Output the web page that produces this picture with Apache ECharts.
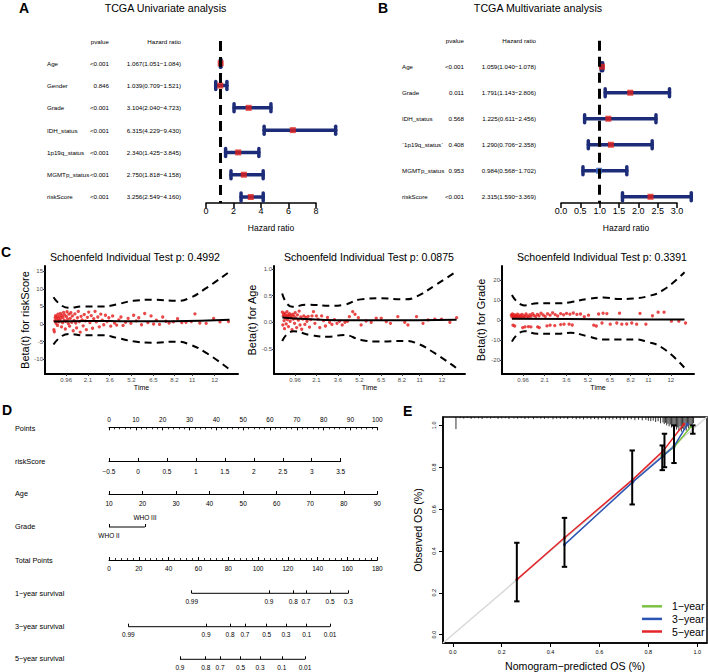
<!DOCTYPE html>
<html><head><meta charset="utf-8">
<script src="https://cdn.jsdelivr.net/npm/echarts@6/dist/echarts.min.js"></script>
<style>html,body{margin:0;padding:0;background:#fff}#c{width:708px;height:672px}</style>
</head><body><div id="c"></div>
<script>
const F = '"Liberation Sans", Arial, Helvetica, sans-serif';
const NAVY = '#1d2c78', RED = '#e0201b', BLUEPT = '#3a66c4', PTRED = '#e31a1c';

// ---------- Panel A : univariate ----------
const uniVars = ['Age','Gender','Grade','IDH_status','1p19q_status','MGMTp_status','riskScore'];
const uniP    = ['<0.001','0.846','<0.001','<0.001','<0.001','<0.001','<0.001'];
const uniHR   = [1.067,1.039,3.104,6.315,2.340,2.750,3.256];
const uniLow  = [1.051,0.709,2.040,4.229,1.425,1.818,2.549];
const uniHigh = [1.084,1.521,4.723,9.430,3.845,4.158,4.160];
const uniTicks = [0,2,4,6,8];

// ---------- Panel B : multivariate ----------
const mulVars = ['Age','Grade','IDH_status','`1p19q_status`','MGMTp_status','riskScore'];
const mulP    = ['<0.001','0.011','0.568','0.408','0.953','<0.001'];
const mulHR   = [1.059,1.791,1.225,1.290,0.984,2.315];
const mulLow  = [1.040,1.143,0.611,0.706,0.568,1.590];
const mulHigh = [1.078,2.806,2.456,2.358,1.702,3.369];
const mulTicks = [0,0.5,1,1.5,2,2.5,3];

// ---------- Panel C : Schoenfeld residuals ----------
const cTimePos = [1,2.02,3.05,4.07,5.11,6.1,6.94,8.0];
const cTimeLab = ['0.96','2.1','3.6','5.2','6.5','8.2','11','12'];
const cTitles = ['Schoenfeld Individual Test p: 0.4992','Schoenfeld Individual Test p: 0.0875','Schoenfeld Individual Test p: 0.3391'];
const cYNames = ['Beta(t) for riskScore','Beta(t) for Age','Beta(t) for Grade'];
const c1Pts = [[0.42,-1.6],[0.44,-2.2],[0.46,0.9],[0.48,1.8],[0.50,2.4],[0.52,0.2],[0.55,1.2],[0.57,2.0],[0.59,-0.4],[0.61,2.8],[0.63,1.5],[0.66,0.6],[0.68,2.2],[0.70,1.0],[0.73,3.0],[0.75,1.7],[0.78,-0.8],[0.80,2.5],[0.83,0.4],[0.85,1.9],[0.88,3.3],[0.90,1.1],[0.93,2.6],[0.96,-1.4],[0.98,0.8],[1.01,2.1],[1.04,3.5],[1.07,1.4],[1.10,0.1],[1.13,2.8],[1.16,-0.6],[1.19,1.6],[1.22,3.2],[1.26,0.5],[1.29,2.3],[1.33,-1.9],[1.37,1.0],[1.41,2.9],[1.45,0.3],[1.49,-1.1],[1.53,1.8],[1.57,3.6],[1.62,0.7],[1.66,-2.3],[1.70,2.2],[1.75,1.2],[1.80,-0.5],[1.85,2.7],[1.90,0.9],[1.95,-1.6],[2.00,1.9],[2.06,3.4],[2.12,0.4],[2.18,2.4],[2.24,-1.2],[2.30,1.5],[2.36,3.6],[2.42,0.6],[2.49,2.0],[2.56,-0.8],[2.63,2.8],[2.70,1.1],[2.77,-0.2],[2.85,2.5],[2.93,0.7],[3.01,1.8],[3.10,-0.6],[3.19,2.3],[3.28,0.3],[3.38,-0.3],[3.48,1.2],[3.58,2.0],[3.68,-0.4],[3.80,0.5],[3.92,1.6],[4.05,0.2],[4.18,2.5],[4.30,0.9],[4.42,1.8],[4.55,-0.2],[4.70,3.0],[4.85,0.4],[5.00,2.3],[5.12,0.0],[5.25,1.1],[5.40,-0.1],[5.55,2.0],[5.70,0.8],[5.85,0.3],[6.05,0.6],[6.25,1.5],[6.45,0.4],[6.65,0.5],[6.90,0.7],[7.07,2.9],[7.30,0.3],[7.60,0.2],[7.95,1.6],[8.25,0.6],[8.65,0.7]];
const c1Beta  = [[0.42,0.7],[2,0.9],[4,0.8],[6,0.8],[8.7,1.2]];
const c1Upper = [[0.40,7.6],[1.11,4.6],[1.81,5.0],[2.75,5.0],[3.38,5.6],[4.16,6.6],[5.1,6.9],[6.2,6.6],[6.82,7.4],[7.6,10.2],[8.7,14.9]];
const c1Lower = [[0.40,-5.8],[1.11,-2.8],[1.81,-3.2],[2.75,-3.2],[3.38,-3.9],[4.16,-4.9],[5.1,-5.3],[6.2,-5.0],[6.82,-5.8],[7.6,-8.2],[8.7,-12.9]];
const c2Pts = [[0.40,0.19],[0.42,-0.05],[0.44,0.12],[0.46,0.15],[0.48,0.03],[0.50,-0.12],[0.52,0.17],[0.54,0.08],[0.56,0.13],[0.58,-0.03],[0.60,0.1],[0.62,0.2],[0.64,0.05],[0.66,0.14],[0.69,-0.08],[0.71,0.11],[0.74,0.16],[0.77,0.02],[0.80,0.13],[0.83,0.09],[0.86,-0.14],[0.89,0.15],[0.92,0.06],[0.95,0.12],[0.98,-0.02],[1.01,0.18],[1.04,0.08],[1.08,-0.1],[1.12,0.14],[1.16,0.04],[1.20,0.21],[1.24,-0.05],[1.28,0.1],[1.32,-0.13],[1.37,0.06],[1.42,0.12],[1.47,-0.04],[1.52,0.09],[1.57,0.02],[1.63,0.11],[1.69,-0.09],[1.75,0.05],[1.81,0.12],[1.88,0.2],[1.95,-0.02],[2.02,0.12],[2.10,0.06],[2.18,-0.1],[2.27,0.12],[2.36,0.03],[2.45,-0.07],[2.55,0.09],[2.65,0.0],[2.76,-0.04],[2.88,0.05],[3.00,-0.02],[3.12,0.02],[3.25,-0.05],[3.38,0.0],[3.50,0.02],[3.59,0.106],[3.75,0.2],[3.86,0.15],[4.02,0.087],[4.15,-0.05],[4.39,0.025],[4.63,0],[4.87,0.075],[5.11,0.075],[5.35,0.012],[5.55,-0.02],[5.90,0.106],[6.23,0],[6.38,-0.05],[6.79,0.106],[7.10,-0.02],[7.34,0.044],[7.66,0.06],[7.98,0.06],[8.38,0],[8.70,0.087]];
const c2Beta  = [[0.4,0.09],[1.5,0.06],[3,0.04],[5,0.04],[8.7,0.05]];
const c2Upper = [[0.39,0.54],[0.87,0.29],[1.59,0.33],[2.7,0.31],[3.34,0.33],[4.14,0.43],[5.1,0.45],[6.22,0.43],[6.78,0.48],[7.66,0.69],[8.7,0.955]];
const c2Lower = [[0.39,-0.35],[0.91,-0.17],[1.75,-0.24],[2.55,-0.27],[3.34,-0.24],[4.14,-0.33],[4.94,-0.36],[6.22,-0.35],[6.78,-0.39],[7.66,-0.58],[8.7,-0.86]];
const c3Pts = [[0.44,2.5],[0.47,1.6],[0.50,3.0],[0.53,2.0],[0.56,1.2],[0.60,2.6],[0.63,1.8],[0.67,2.2],[0.70,1.4],[0.74,2.9],[0.78,1.9],[0.82,1.1],[0.86,2.4],[0.90,1.7],[0.95,2.8],[0.99,1.3],[1.04,2.2],[1.09,1.6],[1.14,3.0],[1.20,2.0],[1.26,1.4],[1.32,2.6],[1.38,1.9],[1.45,3.2],[1.52,2.3],[1.60,1.7],[1.68,2.8],[1.76,2.1],[1.85,3.4],[1.95,2.5],[2.05,1.8],[2.16,3.1],[2.28,2.4],[2.40,3.6],[2.52,2.7],[2.64,2.0],[2.78,3.2],[2.92,2.6],[3.06,3.3],[3.22,2.9],[3.38,3.5],[3.55,2.8],[3.72,3.0],[3.90,1.6],[4.10,2.4],[4.58,3.0],[4.79,3.4],[4.97,3.2],[5.57,3.4],[6.54,3.3],[7.13,2.1],[7.40,3.9],[7.68,3.9],[8.03,-0.6],[8.38,-0.6],[8.70,-1.5],[0.52,-2.6],[0.60,-3.0],[0.98,-3.8],[1.09,-3.45],[1.25,-3.3],[1.37,-3.45],[1.69,-3.45],[1.77,-3.8],[2.13,-2.96],[2.28,-2.6],[2.50,-2.8],[2.78,-2.3],[2.94,-2.1],[3.18,-2.1],[3.33,-2.5],[4.35,-2.6],[4.47,-3.0],[4.74,-1.5],[5.13,-2.1],[5.44,-1.5],[5.68,-2.1],[5.91,-2.0],[6.15,-1.5],[6.38,-2.1],[6.82,-2.1]];
const c3Beta  = [[0.47,0.6],[3,0.5],[6,0.3],[8.65,0.2]];
const c3Upper = [[0.47,12.5],[1.06,7.3],[1.69,8.4],[2.63,8.4],[3.25,8.9],[4.04,10.5],[4.82,11.2],[5.6,10.5],[6.23,10.8],[6.85,11.7],[7.63,14.9],[8.65,23.9]];
const c3Lower = [[0.47,-10.8],[1.06,-5.6],[1.69,-6.9],[2.63,-6.9],[3.25,-6.4],[4.04,-8.1],[4.82,-9.7],[5.6,-9.7],[6.23,-9.7],[6.85,-10.8],[7.63,-14.1],[8.65,-23.9]];

// ---------- Panel D : nomogram ----------
const nomoRows = ['Points','riskScore','Age','Grade','Total Points','1\u2212year survival','3\u2212year survival','5\u2212year survival'];
const gradeLabels = ['WHO II','WHO III'];
const gradePoints = [0, 13.4];
const surv1Lab = ['0.99','0.9','0.8','0.7','0.5','0.3'];
const surv1TP  = [55.5,107.3,123.6,132.1,148.3,160.6];
const surv3Lab = ['0.99','0.9','0.8','0.7','0.5','0.3','0.1','0.01'];
const surv3TP  = [13.0,65.1,81.2,91.2,105.8,118.7,132.6,148.3];
const surv5Lab = ['0.9','0.8','0.7','0.5','0.3','0.1','0.01'];
const surv5TP  = [47.6,64.9,74.5,88.3,101.3,115.9,131.5];

// ---------- Panel E : calibration ----------
const eTicks = [0,0.2,0.4,0.6,0.8,1.0];
const cal1Pred = [0.855,0.905,0.975], cal1Obs = [0.855,0.895,0.995];
const cal3Pred = [0.457,0.737,0.86,0.905,0.96], cal3Obs = [0.43,0.73,0.853,0.90,1.005];
const cal5Pred = [0.262,0.457,0.737,0.86,0.945], cal5Obs = [0.263,0.463,0.742,0.877,1.005];
const errX    = [0.262,0.457,0.734,0.857,0.866,0.905,0.982];
const errLow  = [0.159,0.324,0.622,0.786,0.800,0.820,0.960];
const errHigh = [0.439,0.558,0.880,0.904,0.960,1.000,1.000];
const rugX = [0.013,0.03,0.045,0.06,0.075,0.09,0.105,0.12,0.14,0.155,0.17,0.185,0.2,0.215,0.23,0.25,0.265,0.28,0.295,0.31,0.33,0.345,0.36,0.375,0.39,0.41,0.425,0.44,0.455,0.47,0.49,0.505,0.52,0.535,0.55,0.565,0.58,0.595,0.61,0.625,0.64,0.655,0.67,0.685,0.7,0.715,0.73,0.745,0.76,0.775,0.79,0.8,0.81,0.82,0.83,0.84,0.85,0.86,0.865,0.87,0.875,0.88,0.885,0.89,0.895,0.9,0.905,0.91,0.915,0.92,0.925,0.93,0.935,0.94,0.945,0.95,0.955,0.96,0.965,0.97,0.975,0.98,0.985];
const rugH = [0.058,0.006,0.008,0.005,0.009,0.006,0.007,0.01,0.006,0.008,0.005,0.009,0.007,0.006,0.01,0.007,0.008,0.006,0.009,0.007,0.01,0.006,0.008,0.009,0.007,0.011,0.008,0.009,0.007,0.01,0.008,0.011,0.009,0.012,0.008,0.011,0.01,0.012,0.009,0.013,0.011,0.012,0.01,0.014,0.012,0.013,0.011,0.015,0.013,0.016,0.014,0.018,0.02,0.017,0.024,0.02,0.03,0.026,0.034,0.028,0.04,0.032,0.045,0.036,0.05,0.04,0.055,0.045,0.06,0.05,0.065,0.045,0.07,0.055,0.06,0.05,0.065,0.045,0.055,0.04,0.05,0.035,0.03];

// ================= build =================
const grids = [], xAxes = [], yAxes = [], series = [], graphics = [];
function txt(x, y, text, size, o) {
  o = o || {};
  const a = o.align || 'left';
  graphics.push({type:'text', x:x, y:y, rotation:o.rot||0, silent:true,
    style:{text:text, fill:'#000', font:(o.bold?'bold ':'')+size+'px '+F, fontSize:size, fontFamily:F, fontWeight:o.bold?'bold':'normal',
      textAlign:a, align:a, textVerticalAlign:'middle', verticalAlign:'middle'}});
}
function hideY(gi, min, max) {
  yAxes.push({gridIndex:gi, type:'value', min:min, max:max, show:false, splitLine:{show:false}, axisLine:{onZero:false}});
  return yAxes.length-1;
}

// ---- forest plots ----
function addForest(left, top, width, height, vars, pv, hr, lo, hi, ticks, yMax, fmt, nameX) {
  const gi = grids.length;
  grids.push({left:left, top:top, width:width, height:height, outerBoundsMode:'none'});
  xAxes.push({gridIndex:gi, type:'value', min:ticks[0], max:ticks[ticks.length-1], position:'bottom',
    axisLine:{show:true, onZero:false, lineStyle:{color:'#000', width:1.5}},
    axisTick:{show:true, customValues:ticks, length:5, lineStyle:{color:'#000', width:1.5}},
    axisLabel:{customValues:ticks, fontSize:9, color:'#000', margin:3, fontFamily:F, formatter:fmt},
    splitLine:{show:false}});
  const xi = xAxes.length-1;
  const idx = [-1].concat(vars.map((v,i)=>i));
  const hrText = i => hr[i].toFixed(3)+'('+lo[i].toFixed(3)+'\u2212'+hi[i].toFixed(3)+')';
  const cols = [
    {offset:159, align:'left',  f: v => v < 0 ? '' : vars[v]},
    {offset:97,  align:'right', f: v => v < 0 ? 'pvalue' : pv[v]},
    {offset:25,  align:'right', f: v => v < 0 ? 'Hazard ratio' : hrText(v)}
  ];
  let yi0 = -1;
  cols.forEach((c,k) => {
    yAxes.push({gridIndex:gi, type:'value', inverse:true, min:-1, max:yMax, position:'left', offset:c.offset,
      axisLine:{show:false, onZero:false}, axisTick:{show:false}, splitLine:{show:false},
      axisLabel:{customValues:idx, align:c.align, margin:0, fontSize:6.2, color:'#000', fontFamily:F, formatter:c.f}});
    if (k === 0) yi0 = yAxes.length-1;
  });
  series.push({type:'line', xAxisIndex:xi, yAxisIndex:yi0, data:[], z:1, silent:true,
    markLine:{silent:true, symbol:'none', label:{show:false}, lineStyle:{color:'#000', width:3, type:[10,6]}, data:[{xAxis:1}]}});
  series.push({type:'custom', xAxisIndex:xi, yAxisIndex:yi0, z:2, silent:true, clip:false,
    data: vars.map((v,i)=>[lo[i], hi[i], i]),
    encode:{x:[0,1], y:2},
    renderItem:(p, api) => {
      const a = api.coord([api.value(0), api.value(2)]);
      const b = api.coord([api.value(1), api.value(2)]);
      const c = 4;
      const st = {stroke:NAVY, lineWidth:3.5, lineCap:'round'};
      return {type:'group', children:[
        {type:'line', shape:{x1:a[0], y1:a[1], x2:b[0], y2:b[1]}, style:st},
        {type:'line', shape:{x1:a[0], y1:a[1]-c, x2:a[0], y2:a[1]+c}, style:st},
        {type:'line', shape:{x1:b[0], y1:b[1]-c, x2:b[0], y2:b[1]+c}, style:st}]};
    }});
  series.push({type:'scatter', xAxisIndex:xi, yAxisIndex:yi0, z:3, silent:true, symbol:'rect', symbolSize:6,
    data: vars.map((v,i)=>({value:[hr[i], i], itemStyle:{color: hr[i] > 1 ? RED : BLUEPT}}))});
  txt(nameX, 228, 'Hazard ratio', 8.5, {align:'center'});
}
addForest(206, 41, 110, 162, uniVars, uniP, uniHR, uniLow, uniHigh, uniTicks, 6.27, v => String(v), 271);
addForest(561, 40.7, 116, 162.3, mulVars, mulP, mulHR, mulLow, mulHigh, mulTicks, 5.24, v => v.toFixed(1), 626);

// ---- Schoenfeld plots ----
function addZph(left, width, yMin, yMax, yTicks, yFmt, yName, nameGap, pts, beta, up, lo) {
  const gi = grids.length;
  grids.push({left:left, top:266, width:width, height:108, outerBoundsMode:'none'});
  xAxes.push({gridIndex:gi, type:'value', min:0, max:9.1, position:'bottom',
    axisLine:{show:true, onZero:false, lineStyle:{color:'#000', width:2}},
    axisTick:{show:true, customValues:cTimePos, length:2, lineStyle:{color:'#333', width:1}},
    axisLabel:{customValues:cTimePos, formatter: v => cTimeLab[cTimePos.indexOf(v)], fontSize:6, color:'#4d4d4d', margin:3, fontFamily:F},
    splitLine:{show:false}, name:'Time', nameLocation:'middle', nameGap:10,
    nameTextStyle:{fontSize:7, color:'#000', fontFamily:F}});
  const xi = xAxes.length-1;
  yAxes.push({gridIndex:gi, type:'value', min:yMin, max:yMax, position:'left',
    axisLine:{show:true, onZero:false, lineStyle:{color:'#000', width:2}},
    axisTick:{show:true, customValues:yTicks, length:2, lineStyle:{color:'#333', width:1}},
    axisLabel:{customValues:yTicks, formatter:yFmt, fontSize:6, color:'#4d4d4d', margin:2, fontFamily:F},
    splitLine:{show:false}, name:yName, nameLocation:'middle', nameGap:nameGap,
    nameTextStyle:{fontSize:11, color:'#000', fontFamily:F}});
  const yi = yAxes.length-1;
  series.push({type:'scatter', xAxisIndex:xi, yAxisIndex:yi, data:pts, symbol:'circle', symbolSize:3.3, silent:true, itemStyle:{color:PTRED}, z:2});
  series.push({type:'line', xAxisIndex:xi, yAxisIndex:yi, data:beta, smooth:0.5, showSymbol:false, symbol:'none', silent:true, lineStyle:{color:'#000', width:2}, z:3});
  [up, lo].forEach(d => series.push({type:'line', xAxisIndex:xi, yAxisIndex:yi, data:d, smooth:0.5, showSymbol:false, symbol:'none', silent:true, lineStyle:{color:'#000', width:2, type:[7,5]}, z:3}));
}
const minus = v => (v < 0 ? '-' + Math.abs(v) : String(v));
addZph(45, 193, -14.2, 16.5, [-10,-5,0,5,10,15], minus, cYNames[0], 14, c1Pts, c1Beta, c1Upper, c1Lower);
addZph(274, 191, -0.97, 1.056, [-0.5,0,0.5,1.0], v => (v<0?'-':'')+Math.abs(v).toFixed(1), cYNames[1], 16, c2Pts, c2Beta, c2Upper, c2Lower);
addZph(502, 192, -27, 27, [-20,-10,0,10,20], minus, cYNames[2], 16, c3Pts, c3Beta, c3Upper, c3Lower);
txt(135, 257, cTitles[0], 10.6, {align:'center'});
txt(369, 257, cTitles[1], 10.6, {align:'center'});
txt(602, 257, cTitles[2], 10.6, {align:'center'});

// ---- Nomogram ----
const NL = 109, NW = 268.3;
function nomoAxis(lineY, width, min, max, interval, opt) {
  const gi = grids.length;
  const top = opt.pos === 'top' ? lineY : lineY - 1;
  grids.push({left:NL, top:top, width:width, height:1, outerBoundsMode:'none'});
  xAxes.push({gridIndex:gi, type:'value', min:min, max:max, interval:interval, position:opt.pos||'bottom',
    axisLine:{show:true, onZero:false, lineStyle:{color:'#000', width:1}},
    axisTick:{show:true, inside:true, length:3, lineStyle:{color:'#000', width:1}},
    minorTick:{show:!!opt.minor, splitNumber:opt.minor||5, length:2, lineStyle:{color:'#000', width:0.8}},
    axisLabel:{fontSize:6.5, color:'#000', margin:opt.margin, fontFamily:F, formatter:opt.fmt || (v => String(v))},
    splitLine:{show:false}, minorSplitLine:{show:false}});
  hideY(gi, 0, 1);
}
function curveAxis(lineY, tp, labels) {
  const gi = grids.length;
  grids.push({left:NL, top:lineY-1, width:NW, height:1, outerBoundsMode:'none'});
  xAxes.push({gridIndex:gi, type:'value', min:0, max:180, position:'bottom',
    axisLine:{show:false, onZero:false},
    axisTick:{show:true, inside:true, length:3, customValues:tp, lineStyle:{color:'#000', width:1}},
    axisLabel:{customValues:tp, formatter: v => labels[tp.indexOf(v)], fontSize:6.5, margin:4.5, color:'#000', fontFamily:F},
    splitLine:{show:false}});
  const yi = hideY(gi, 0, 1);
  series.push({type:'line', xAxisIndex:xAxes.length-1, yAxisIndex:yi, data:[[tp[0],0],[tp[tp.length-1],0]], symbol:'none', silent:true, clip:false, lineStyle:{color:'#000', width:1}});
}
nomoAxis(427.3, NW, 0, 100, 10, {pos:'top', minor:5, margin:4});
nomoAxis(461, 231.7, -0.5, 3.5, 0.5, {margin:6.5, fmt: v => (v < 0 ? '\u2212' + Math.abs(v) : String(v))});
nomoAxis(494, NW, 10, 90, 10, {margin:5.5});
(function(){
  const lineY = 527;
  const gi = grids.length;
  grids.push({left:NL, top:lineY-1, width:NW, height:1, outerBoundsMode:'none'});
  xAxes.push({gridIndex:gi, type:'value', min:0, max:100, position:'bottom', axisLine:{show:false, onZero:false},
    axisTick:{show:true, inside:true, length:3, customValues:gradePoints, lineStyle:{color:'#000', width:1}},
    axisLabel:{customValues:[gradePoints[0]], formatter: v => gradeLabels[gradePoints.indexOf(v)], fontSize:6.5, margin:4.5, color:'#000', fontFamily:F},
    splitLine:{show:false}});
  const xb = xAxes.length-1;
  xAxes.push({gridIndex:gi, type:'value', min:0, max:100, position:'top', axisLine:{show:false, onZero:false}, axisTick:{show:false},
    axisLabel:{customValues:[gradePoints[1]], formatter: v => gradeLabels[gradePoints.indexOf(v)], fontSize:6.5, margin:5.5, color:'#000', fontFamily:F},
    splitLine:{show:false}});
  const yi = hideY(gi, 0, 1);
  series.push({type:'line', xAxisIndex:xb, yAxisIndex:yi, data:gradePoints.map(p => [p, 0]), symbol:'none', silent:true, clip:false, lineStyle:{color:'#000', width:1}});
})();
nomoAxis(560, NW, 0, 180, 20, {minor:5, margin:4.5});
curveAxis(593.3, surv1TP, surv1Lab);
curveAxis(626.7, surv3TP, surv3Lab);
curveAxis(659.3, surv5TP, surv5Lab);
const nomoY = [428, 461, 493.5, 526.7, 560, 593.3, 626.5, 658.5];
nomoRows.forEach((r,i) => txt(15, nomoY[i], r, 7.3));

// ---- Calibration ----
const E_MIN = -0.04, E_MAX = 1.04;
(function(){
  const gi = grids.length;
  grids.push({left:443, top:417, width:264, height:226, show:true, borderColor:'#000', borderWidth:1.5, backgroundColor:'transparent', outerBoundsMode:'none'});
  xAxes.push({gridIndex:gi, type:'value', min:E_MIN, max:E_MAX, position:'bottom',
    axisLine:{show:true, onZero:false, lineStyle:{color:'#000', width:1.5}},
    axisTick:{show:true, customValues:eTicks, length:4, lineStyle:{color:'#000', width:1}},
    axisLabel:{customValues:eTicks, formatter: v => v.toFixed(1), fontSize:5.5, margin:6, color:'#000', fontFamily:F},
    splitLine:{show:false}, name:'Nomogram\u2212predicted OS (%)', nameLocation:'middle', nameGap:17,
    nameTextStyle:{fontSize:10.6, color:'#000', fontFamily:F}});
  const xi = xAxes.length-1;
  yAxes.push({gridIndex:gi, type:'value', min:E_MIN, max:E_MAX, position:'left',
    axisLine:{show:true, onZero:false, lineStyle:{color:'#000', width:1.5}},
    axisTick:{show:true, customValues:eTicks, length:4, lineStyle:{color:'#000', width:1}},
    axisLabel:{customValues:eTicks, formatter: v => v.toFixed(1), rotate:90, fontSize:5.5, margin:6, color:'#000', fontFamily:F},
    splitLine:{show:false}, name:'Observed OS (%)', nameLocation:'middle', nameGap:20,
    nameTextStyle:{fontSize:10.6, color:'#000', fontFamily:F}});
  const yi = yAxes.length-1;
  series.push({type:'line', xAxisIndex:xi, yAxisIndex:yi, data:[[E_MIN,E_MIN],[E_MAX,E_MAX]], symbol:'none', silent:true, z:1, lineStyle:{color:'#d9d9d9', width:1.5}});
  series.push({type:'custom', xAxisIndex:xi, yAxisIndex:yi, silent:true, z:2,
    data: rugX.map((x,i)=>[x, rugH[i]]),
    renderItem:(p, api) => {
      const a = api.coord([api.value(0), E_MAX]);
      const b = api.coord([api.value(0), E_MAX - api.value(1)]);
      return {type:'line', shape:{x1:a[0], y1:a[1], x2:b[0], y2:b[1]}, style:{stroke:'#000', lineWidth:0.8}};
    }});
  const cal = [['1\u2212year', '#7cc142', cal1Pred, cal1Obs], ['3\u2212year', '#2d55b3', cal3Pred, cal3Obs], ['5\u2212year', '#e3262a', cal5Pred, cal5Obs]];
  [cal[2], cal[0], cal[1]].forEach(c => series.push({type:'line', name:c[0], xAxisIndex:xi, yAxisIndex:yi, silent:true, z:3,
    data: c[2].map((x,i)=>[x, c[3][i]]), symbol:'circle', symbolSize:3, showSymbol:true,
    itemStyle:{color:c[1]}, lineStyle:{color:c[1], width:1.5}, color:c[1]}));
  series.push({type:'custom', xAxisIndex:xi, yAxisIndex:yi, silent:true, z:4,
    data: errX.map((x,i)=>[x, errLow[i], errHigh[i]]),
    renderItem:(p, api) => {
      const a = api.coord([api.value(0), api.value(1)]);
      const b = api.coord([api.value(0), api.value(2)]);
      const w = 2.7, st = {stroke:'#000', lineWidth:2};
      return {type:'group', children:[
        {type:'line', shape:{x1:a[0], y1:a[1], x2:b[0], y2:b[1]}, style:st},
        {type:'line', shape:{x1:a[0]-w, y1:a[1], x2:a[0]+w, y2:a[1]}, style:st},
        {type:'line', shape:{x1:b[0]-w, y1:b[1], x2:b[0]+w, y2:b[1]}, style:st}]};
    }});
})();

// ---- titles & panel letters ----
txt(165.5, 7.5, 'TCGA Univariate analysis', 10.7, {align:'center'});
txt(538, 7.5, 'TCGA Multivariate analysis', 10.7, {align:'center'});
txt(19, 8, 'A', 14, {bold:true});
txt(378, 7.5, 'B', 14, {bold:true});
txt(1, 251.5, 'C', 14, {bold:true});
txt(2, 410, 'D', 14, {bold:true});
txt(403, 411, 'E', 14, {bold:true});

const chart = echarts.init(document.getElementById('c'), null, {renderer:'svg', width:708, height:672});
chart.setOption({
  animation:false,
  backgroundColor:'#fff',
  textStyle:{fontFamily:F},
  grid:grids, xAxis:xAxes, yAxis:yAxes, series:series,
  legend:{data:['1\u2212year','3\u2212year','5\u2212year'], orient:'vertical', left:642, top:600, padding:0, icon:'rect',
    itemWidth:20, itemHeight:2.5, itemGap:0, selectedMode:false,
    textStyle:{fontSize:10.5, color:'#000', fontFamily:F, lineHeight:12.6, padding:[0,0,0,5], overflow:'none'}},
  graphic:graphics
});
</script></body></html>
